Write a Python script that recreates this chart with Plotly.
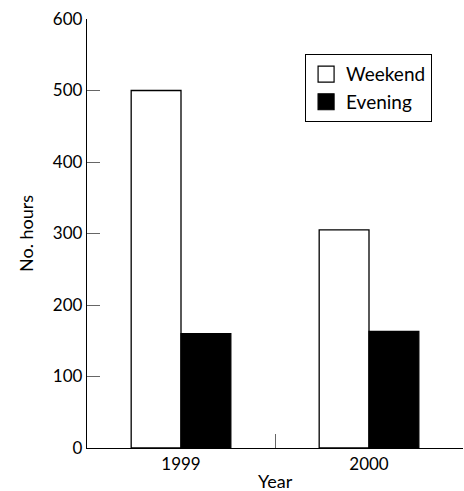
import plotly.graph_objects as go

years = ["1999", "2000"]
weekend = [500, 305]
evening = [160, 163]
y_ticks = [0, 100, 200, 300, 400, 500, 600]

FONT = "Lato"

fig = go.Figure()
fig.add_trace(go.Bar(name="Weekend", x=years, y=weekend, showlegend=False,
                     marker=dict(color="white", line=dict(color="black", width=1.3))))
fig.add_trace(go.Bar(name="Evening", x=years, y=evening, showlegend=False,
                     marker=dict(color="black", line=dict(color="black", width=1.3))))
# legend entries with larger square swatches
fig.add_trace(go.Scatter(name="Weekend", x=[None], y=[None], mode="markers",
                         marker=dict(symbol="square", size=16, color="white",
                                     line=dict(color="black", width=1.2))))
fig.add_trace(go.Scatter(name="Evening", x=[None], y=[None], mode="markers",
                         marker=dict(symbol="square", size=16, color="black",
                                     line=dict(color="black", width=1.2))))

fig.update_layout(
    width=464, height=491,
    margin=dict(l=87, r=1, t=19, b=43, pad=0),
    paper_bgcolor="white", plot_bgcolor="white",
    barmode="group", bargap=0.47, bargroupgap=0,
    font=dict(family=FONT, size=17, color="black"),
    showlegend=True,
    legend=dict(x=0.58, y=0.918, xanchor="left", yanchor="top",
                bordercolor="black", borderwidth=1, bgcolor="white",
                font=dict(size=19, family=FONT), itemwidth=30,
                itemsizing="trace"),
    xaxis=dict(
        showline=True, linecolor="black", linewidth=1.3,
        ticks="inside", ticklen=14, tickcolor="#666", tickwidth=1.3,
        tickson="boundaries", showgrid=False,
    ),
    yaxis=dict(
        range=[0, 600], tickvals=y_ticks,
        showline=True, linecolor="black", linewidth=1.3,
        ticks="inside", ticklen=13, tickcolor="#666", tickwidth=1.3,
        showgrid=False, zeroline=False,
        title=dict(text="No. hours", font=dict(size=18, family=FONT), standoff=14),
    ),
    annotations=[dict(text="Year", xref="paper", yref="paper", x=0.5, y=-0.077,
                      xanchor="center", yanchor="middle", showarrow=False,
                      font=dict(size=18, family=FONT))],
)

fig.write_html("out.html", config={"displayModeBar": False},
               post_script="document.body.style.margin='0';document.body.style.padding='0';")
